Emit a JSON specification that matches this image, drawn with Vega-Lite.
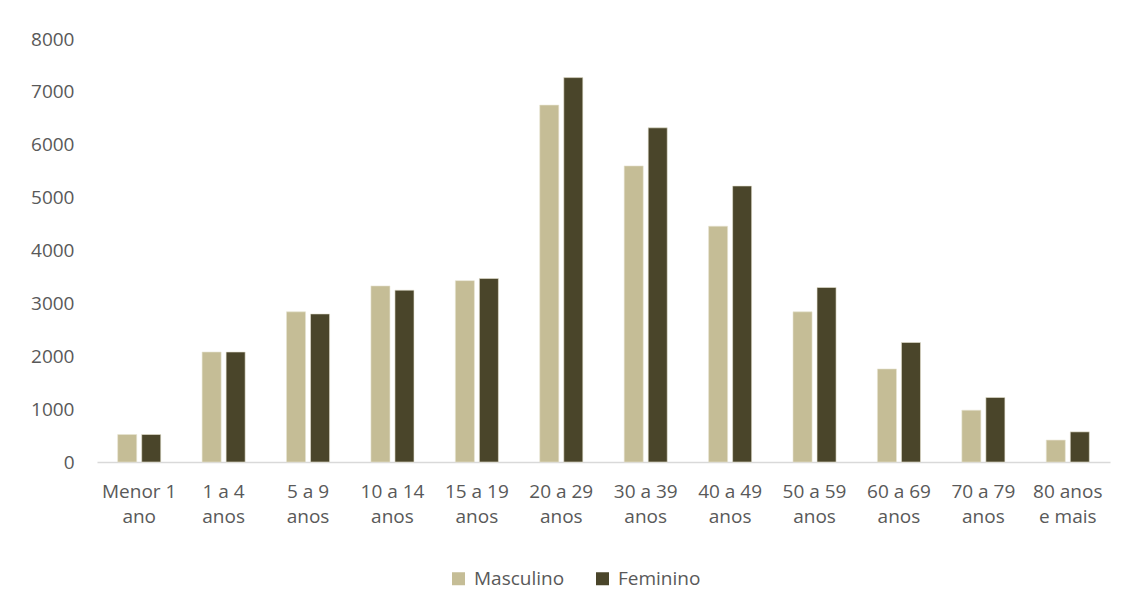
{
  "$schema": "https://vega.github.io/schema/vega-lite/v6.json",
  "autosize": "none",
  "width": 1013,
  "height": 423,
  "padding": {"left": 97, "top": 39, "right": 14, "bottom": 146},
  "background": "white",
  "data": {
    "values": [
      {"faixa": "Menor 1 ano", "sexo": "Masculino", "valor": 520},
      {"faixa": "Menor 1 ano", "sexo": "Feminino", "valor": 520},
      {"faixa": "1 a 4 anos", "sexo": "Masculino", "valor": 2080},
      {"faixa": "1 a 4 anos", "sexo": "Feminino", "valor": 2080},
      {"faixa": "5 a 9 anos", "sexo": "Masculino", "valor": 2840},
      {"faixa": "5 a 9 anos", "sexo": "Feminino", "valor": 2800},
      {"faixa": "10 a 14 anos", "sexo": "Masculino", "valor": 3330},
      {"faixa": "10 a 14 anos", "sexo": "Feminino", "valor": 3250},
      {"faixa": "15 a 19 anos", "sexo": "Masculino", "valor": 3430},
      {"faixa": "15 a 19 anos", "sexo": "Feminino", "valor": 3470},
      {"faixa": "20 a 29 anos", "sexo": "Masculino", "valor": 6750},
      {"faixa": "20 a 29 anos", "sexo": "Feminino", "valor": 7270},
      {"faixa": "30 a 39 anos", "sexo": "Masculino", "valor": 5600},
      {"faixa": "30 a 39 anos", "sexo": "Feminino", "valor": 6320},
      {"faixa": "40 a 49 anos", "sexo": "Masculino", "valor": 4460},
      {"faixa": "40 a 49 anos", "sexo": "Feminino", "valor": 5220},
      {"faixa": "50 a 59 anos", "sexo": "Masculino", "valor": 2840},
      {"faixa": "50 a 59 anos", "sexo": "Feminino", "valor": 3300},
      {"faixa": "60 a 69 anos", "sexo": "Masculino", "valor": 1760},
      {"faixa": "60 a 69 anos", "sexo": "Feminino", "valor": 2260},
      {"faixa": "70 a 79 anos", "sexo": "Masculino", "valor": 980},
      {"faixa": "70 a 79 anos", "sexo": "Feminino", "valor": 1220},
      {"faixa": "80 anos e mais", "sexo": "Masculino", "valor": 415},
      {"faixa": "80 anos e mais", "sexo": "Feminino", "valor": 570}
    ]
  },
  "mark": {"type": "bar", "stroke": "#e8e4d2", "strokeWidth": 0.6},
  "encoding": {
    "x": {
      "field": "faixa",
      "type": "nominal",
      "sort": null,
      "scale": {"paddingInner": 0.49, "paddingOuter": 0.245},
      "axis": {
        "title": null,
        "labelAngle": 0,
        "ticks": false,
        "domainColor": "#d9d9d9",
        "domainWidth": 1.3,
        "labelPadding": 29,
        "labelFont": "Open Sans",
        "labelFontSize": 19,
        "labelColor": "#595959",
        "labelLineHeight": 25,
        "labelBaseline": "middle",
        "labelExpr": "datum.label == '80 anos e mais' ? ['80 anos', 'e mais'] : [slice(datum.label, 0, lastindexof(datum.label, ' ')), slice(datum.label, lastindexof(datum.label, ' ') + 1)]"
      }
    },
    "xOffset": {
      "field": "sexo",
      "type": "nominal",
      "sort": ["Masculino", "Feminino"],
      "scale": {"paddingInner": 0.208, "paddingOuter": 0}
    },
    "y": {
      "field": "valor",
      "type": "quantitative",
      "scale": {"domain": [0, 8000], "nice": false},
      "axis": {
        "title": null,
        "values": [0, 1000, 2000, 3000, 4000, 5000, 6000, 7000, 8000],
        "format": "d",
        "grid": false,
        "domain": false,
        "ticks": false,
        "labelPadding": 23,
        "labelFont": "Open Sans",
        "labelFontSize": 19,
        "labelColor": "#595959"
      }
    },
    "color": {
      "field": "sexo",
      "type": "nominal",
      "sort": ["Masculino", "Feminino"],
      "scale": {"domain": ["Masculino", "Feminino"], "range": ["#c5bd96", "#4a452a"]},
      "legend": {
        "title": null,
        "orient": "none",
        "legendX": 352,
        "legendY": 530,
        "direction": "horizontal",
        "symbolType": "square",
        "symbolSize": 169,
        "symbolStrokeWidth": 0,
        "labelFont": "Open Sans",
        "labelFontSize": 19,
        "labelColor": "#595959",
        "columnPadding": 28,
        "labelOffset": 6
      }
    }
  },
  "config": {"view": {"stroke": null}}
}
